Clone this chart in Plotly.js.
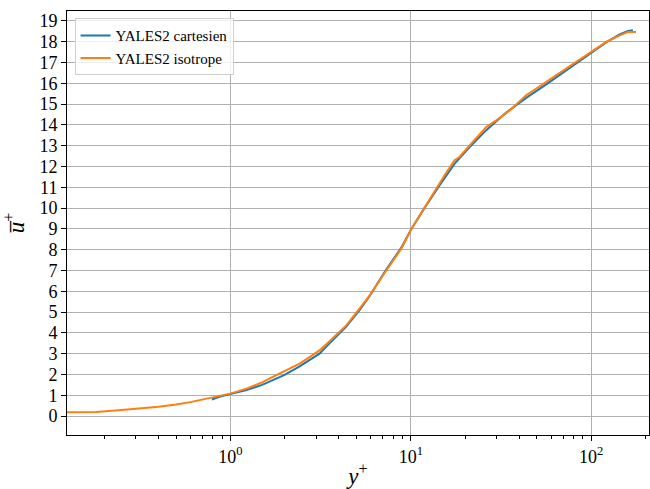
<!DOCTYPE html>
<html>
<head>
<meta charset="utf-8">
<script src="https://cdn.plot.ly/plotly-3.0.1.min.js"></script>
<style>html,body{margin:0;padding:0;background:#fff;}#chart{width:650px;height:489px;}</style>
</head>
<body>
<div id="chart"></div>
<script>
// YALES2 isotrope
const isoX = [0.124, 0.18, 0.25, 0.32, 0.4, 0.5, 0.6, 0.74, 0.87, 1.0, 1.23, 1.5, 1.72, 2.0, 2.42, 2.8, 3.12, 3.5, 4.03, 4.39, 5.2, 5.92, 7.31, 8.86, 10.07, 11.19, 11.9, 12.7, 14.1, 15.7, 17.5, 18.6, 21.2, 26.2, 29.8, 35.3, 43.6, 56.3, 75.8, 100, 121, 143.6, 159.6, 177];
const isoY = [0.19, 0.2, 0.29, 0.36, 0.45, 0.56, 0.67, 0.84, 0.95, 1.08, 1.32, 1.62, 1.88, 2.15, 2.52, 2.88, 3.16, 3.55, 4.05, 4.36, 5.17, 5.8, 7.0, 8.05, 9.0, 9.65, 10.05, 10.46, 11.1, 11.7, 12.3, 12.46, 13.02, 13.9, 14.22, 14.7, 15.43, 16.07, 16.79, 17.51, 17.99, 18.31, 18.47, 18.47];
// YALES2 cartesien
const cartX = [0.79, 0.87, 1.0, 1.23, 1.5, 1.72, 2.0, 2.42, 2.8, 3.12, 3.5, 4.03, 4.39, 5.2, 5.92, 7.31, 8.86, 10.0, 11.9, 14.45, 15.7, 17.5, 21.2, 26.2, 33.8, 43.6, 56.3, 75.8, 100, 121, 143.6, 160, 170];
const cartY = [0.8, 0.93, 1.06, 1.25, 1.5, 1.72, 1.98, 2.39, 2.72, 3.0, 3.45, 4.0, 4.3, 5.1, 5.78, 7.05, 8.1, 8.95, 10.0, 11.1, 11.55, 12.14, 12.94, 13.75, 14.6, 15.3, 15.95, 16.75, 17.48, 17.97, 18.35, 18.52, 18.55];
const seriesNames = ["YALES2 cartesien", "YALES2 isotrope"];
const xTickVals = [1, 10, 100];
const xTickText = ["10<sup>0</sup>", "10<sup>1</sup>", "10<sup>2</sup>"];

const font = "'Liberation Serif', 'DejaVu Serif', serif";
const traces = [
  {x: cartX, y: cartY, name: seriesNames[0], mode: 'lines', line: {color: '#1f77b4', width: 2}},
  {x: isoX, y: isoY, name: seriesNames[1], mode: 'lines', line: {color: '#ff7f0e', width: 2}}
];
const layout = {
  width: 650, height: 489,
  margin: {l: 67, r: 1, t: 11, b: 54},
  paper_bgcolor: '#fff', plot_bgcolor: '#fff',
  font: {family: font, color: '#000', size: 16},
  showlegend: true,
  legend: {x: 0.013, y: 0.983, xanchor: 'left', yanchor: 'top', bgcolor: 'rgba(255,255,255,0.8)',
           bordercolor: '#d0d0d0', borderwidth: 1, font: {family: font, size: 15}, tracegroupgap: 0},
  xaxis: {
    type: 'log', range: [-0.905, 2.32],
    tickvals: xTickVals, ticktext: xTickText,
    showgrid: true, gridcolor: '#b0b0b0', gridwidth: 1,
    showline: true, linecolor: '#000', linewidth: 1, mirror: true,
    ticks: 'outside', ticklen: 5, tickcolor: '#000',
    minor: {dtick: 'D1', ticks: 'outside', ticklen: 3, tickcolor: '#000', showgrid: false},
    zeroline: false,
    tickfont: {family: font, size: 18},
    title: {text: '<i>y</i><sup>+</sup>', font: {family: font, size: 23}, standoff: 8}
  },
  yaxis: {
    range: [-0.91, 19.48], dtick: 1, tick0: 0,
    showgrid: true, gridcolor: '#b0b0b0', gridwidth: 1,
    showline: true, linecolor: '#000', linewidth: 1, mirror: true,
    ticks: 'outside', ticklen: 5, tickcolor: '#000',
    zeroline: false,
    tickfont: {family: font, size: 18},
    title: {text: '<i>u\u0305</i><sup>+</sup>', font: {family: font, size: 23}, standoff: 8}
  }
};
Plotly.newPlot('chart', traces, layout, {displayModeBar: false, staticPlot: true});
</script>
</body>
</html>
